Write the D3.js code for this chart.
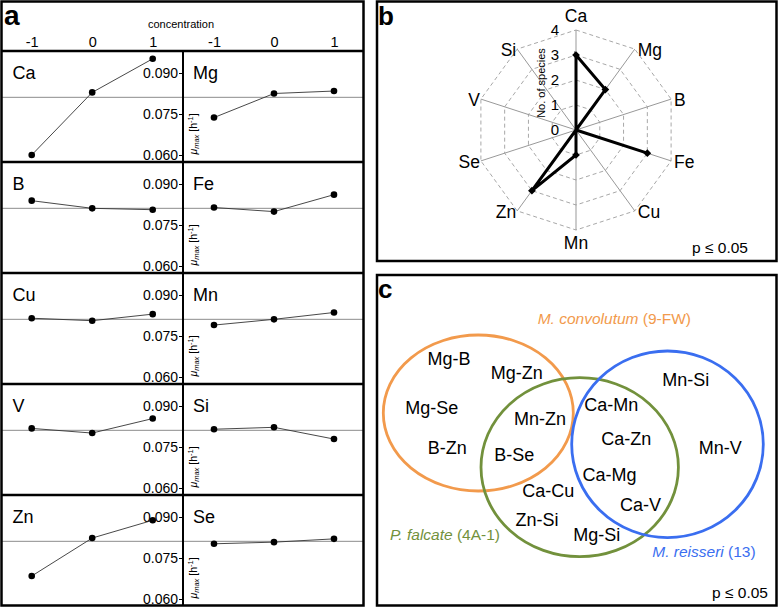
<!DOCTYPE html>
<html><head><meta charset="utf-8">
<script src="https://cdn.jsdelivr.net/npm/d3@7"></script>
<style>
body{margin:0;background:#fff}
svg{display:block}
text{font-family:"Liberation Sans",Arial,Helvetica,sans-serif;fill:#000}
</style>
</head><body>
<svg id="fig" width="779" height="608"></svg>
<script>
// ---------- Panel a data ----------
const concentrations = [-1, 0, 1];
const muCa = [0.0600, 0.0829, 0.0952];
const muMg = [0.0737, 0.0825, 0.0834];
const muB  = [0.0839, 0.0811, 0.0806];
const muFe = [0.0814, 0.0799, 0.0861];
const muCu = [0.0815, 0.0806, 0.0830];
const muMn = [0.0790, 0.0811, 0.0836];
const muV  = [0.0818, 0.0801, 0.0854];
const muSi = [0.0815, 0.0822, 0.0779];
const muZn = [0.0684, 0.0823, 0.0888];
const muSe = [0.0802, 0.0808, 0.0820];
const muTicks = [0.060, 0.075, 0.090];
const referenceMu = 0.0811;
const gridRows = [["Ca","Mg"],["B","Fe"],["Cu","Mn"],["V","Si"],["Zn","Se"]];
const muByElement = {Ca:muCa, Mg:muMg, B:muB, Fe:muFe, Cu:muCu, Mn:muMn, V:muV, Si:muSi, Zn:muZn, Se:muSe};

// ---------- Panel b data ----------
const radarAxes = ["Ca","Mg","B","Fe","Cu","Mn","Zn","Se","V","Si"];
const speciesCount = [3, 2, 0, 3, 0, 1, 3, 0, 0, 0];
const radarTicks = [0, 1, 2, 3, 4];

// ---------- Panel c data ----------
const vennNames = ["M. convolutum", "P. falcate", "M. reisseri"];
const vennStrains = ["9-FW", "4A-1", "13"];
const pairsConvolutumOnly = ["Mg-B","Mg-Zn","Mg-Se","B-Zn"];
const pairsConvolutumFalcate = ["Mn-Zn","B-Se"];
const pairsFalcateReisseri = ["Ca-Mn","Ca-Zn","Ca-Mg","Ca-V"];
const pairsFalcateOnly = ["Ca-Cu","Zn-Si","Mg-Si"];
const pairsReisseriOnly = ["Mn-Si","Mn-V"];
const pValueText = "p ≤ 0.05";

// ---------- Layout ----------
const svg = d3.select("#fig");
const FONT = '"Liberation Sans",Arial,Helvetica,sans-serif';

// ===== Panel a =====
const A = {x0:1.5, x1:363.5, y0:1.5, y1:605.5, headerY:51, rowH:111, divX:183};
const ga = svg.append("g");
const colScales = [
  d3.scaleLinear().domain([-1,1]).range([31.7,152.7]),
  d3.scaleLinear().domain([-1,1]).range([214,334])
];

// header
ga.append("text").attr("x",181).attr("y",28).attr("text-anchor","middle")
  .style("font-size","11px").text("concentration");
colScales.forEach(sc=>{
  const ax = ga.append("g").attr("transform",`translate(0,${A.headerY})`)
    .call(d3.axisTop(sc).tickValues(concentrations).tickFormat(d=>String(d)).tickSize(0).tickPadding(4));
  ax.select(".domain").remove();
  ax.selectAll("text").style("font-size","14.5px").style("font-family",FONT).attr("fill","#000");
});

gridRows.forEach((pair,i)=>{
  const top = A.headerY + i*A.rowH;
  const y = d3.scaleLinear().domain([0.060,0.090]).range([top+104, top+22]);
  ga.append("line").attr("x1",A.x0).attr("x2",A.x1)
    .attr("y1",y(referenceMu)).attr("y2",y(referenceMu))
    .attr("stroke","#8c8c8c").attr("stroke-width",1);
  const ax = ga.append("g").attr("transform",`translate(${A.divX},0)`)
    .call(d3.axisLeft(y).tickValues(muTicks).tickFormat(d3.format(".3f")).tickSize(4).tickPadding(1));
  ax.select(".domain").remove();
  ax.selectAll("line").attr("stroke","#000").attr("stroke-width",1);
  ax.selectAll("text").style("font-size","14px").style("font-family",FONT).attr("fill","#000");
  const t = ga.append("text").attr("transform",`translate(${A.divX+10},${top+83}) rotate(-90)`)
    .attr("text-anchor","middle").attr("dy","0.35em").style("font-size","10.5px");
  t.append("tspan").style("font-style","italic").text("μ");
  t.append("tspan").style("font-style","italic").style("font-size","7.5px").attr("dy","2").text("max");
  t.append("tspan").attr("dy","-2").text(" [h");
  t.append("tspan").style("font-size","7.5px").attr("dy","-4").text("-1");
  t.append("tspan").attr("dy","4").text("]");

  pair.forEach((el,c)=>{
    const xs = colScales[c];
    const vals = muByElement[el];
    const pts = concentrations.map((k,j)=>[xs(k), y(vals[j])]);
    ga.append("path").attr("d", d3.line()(pts)).attr("fill","none")
      .attr("stroke","#333").attr("stroke-width",0.9);
    ga.selectAll(null).data(pts).join("circle")
      .attr("cx",d=>d[0]).attr("cy",d=>d[1]).attr("r",3.3).attr("fill","#000");
    ga.append("text").attr("x", c===0 ? 12.5 : 193).attr("y", top+28)
      .style("font-size","18px").text(el);
  });
  if(i>0){
    ga.append("line").attr("x1",A.x0).attr("x2",A.x1).attr("y1",top).attr("y2",top)
      .attr("stroke","#000").attr("stroke-width",2.5);
  }
});
ga.append("line").attr("x1",A.x0).attr("x2",A.x1).attr("y1",A.headerY).attr("y2",A.headerY)
  .attr("stroke","#000").attr("stroke-width",2.5);
ga.append("line").attr("x1",A.divX).attr("x2",A.divX).attr("y1",A.headerY).attr("y2",A.y1)
  .attr("stroke","#000").attr("stroke-width",2);
ga.append("rect").attr("x",A.x0).attr("y",A.y0).attr("width",A.x1-A.x0).attr("height",A.y1-A.y0)
  .attr("fill","none").attr("stroke","#000").attr("stroke-width",2.5);
ga.append("text").attr("x",4).attr("y",25).style("font-size","28px").style("font-weight","bold").text("a");

// ===== Panel b =====
const B = {x0:377, x1:776.5, y0:1.5, y1:261, cx:576, cy:130, R:100};
const gb = svg.append("g");
gb.append("rect").attr("x",B.x0).attr("y",B.y0).attr("width",B.x1-B.x0).attr("height",B.y1-B.y0)
  .attr("fill","none").attr("stroke","#000").attr("stroke-width",2.5);
gb.append("text").attr("x",378).attr("y",25).style("font-size","26px").style("font-weight","bold").text("b");
const rs = d3.scaleLinear().domain([0,4]).range([0,B.R]);
const angleOf = k => radarAxes.indexOf(k) * 2*Math.PI/radarAxes.length;
const rg = gb.append("g").attr("transform",`translate(${B.cx},${B.cy})`);
radarTicks.filter(t=>t>0).forEach(t=>{
  rg.append("path")
    .attr("d", d3.lineRadial().angle(k=>angleOf(k)).radius(()=>rs(t)).curve(d3.curveLinearClosed)(radarAxes))
    .attr("fill","none").attr("stroke","#a8a8a8").attr("stroke-width",1).attr("stroke-dasharray","4,3");
});
radarAxes.forEach(k=>{
  const a = angleOf(k);
  rg.append("line").attr("x1",0).attr("y1",0)
    .attr("x2",rs(4)*Math.sin(a)).attr("y2",-rs(4)*Math.cos(a))
    .attr("stroke","#999").attr("stroke-width",1);
});
radarAxes.forEach(k=>{
  const a = angleOf(k), s = Math.sin(a), c = Math.cos(a);
  const ex = rs(4)*s, ey = -rs(4)*c;
  const t = rg.append("text").style("font-size","17.5px").text(k);
  if (Math.abs(s) < 0.01) {
    t.attr("x",ex).attr("text-anchor","middle").attr("y", c>0 ? ey-8 : ey+19);
  } else if (s>0) {
    t.attr("x",ex+3).attr("y",ey+1).attr("dy","0.35em").attr("text-anchor","start");
  } else {
    t.attr("x",ex-1).attr("y",ey+1).attr("dy","0.35em").attr("text-anchor","end");
  }
});
radarTicks.forEach(t=>{
  rg.append("text").attr("x",-17).attr("y",-rs(t)).attr("dy","0.36em")
    .attr("text-anchor","end").style("font-size","15px").text(t);
});
rg.append("text").attr("transform",`translate(-31,-47) rotate(-90)`).attr("text-anchor","middle")
  .style("font-size","11px").text("No. of species");
const rdata = radarAxes.map((k,i)=>({k, v:speciesCount[i]}));
rg.append("path")
  .attr("d", d3.lineRadial().angle(d=>angleOf(d.k)).radius(d=>rs(d.v)).curve(d3.curveLinearClosed)(rdata))
  .attr("fill","none").attr("stroke","#000").attr("stroke-width",3).attr("stroke-linejoin","miter");
rg.selectAll(null).data(rdata.filter(d=>d.v>0)).join("path")
  .attr("d", d3.symbol(d3.symbolSquare, 30))
  .attr("transform", d=>{const a=angleOf(d.k); return `translate(${rs(d.v)*Math.sin(a)},${-rs(d.v)*Math.cos(a)}) rotate(45)`;})
  .attr("fill","#000");
gb.append("text").attr("x",748).attr("y",253).attr("text-anchor","end").style("font-size","15.5px").text(pValueText);

// ===== Panel c =====
const C = {x0:377, x1:776.5, y0:275, y1:605.5};
const gc = svg.append("g");
gc.append("rect").attr("x",C.x0).attr("y",C.y0).attr("width",C.x1-C.x0).attr("height",C.y1-C.y0)
  .attr("fill","none").attr("stroke","#000").attr("stroke-width",2.5);
gc.append("text").attr("x",378).attr("y",298).style("font-size","26px").style("font-weight","bold").text("c");
const vennColors = ["#f29a4c","#72913c","#3a6ef0"];
const vennShapes = [
  {cx:478.3, cy:413, rx:95, ry:78},
  {cx:579.7, cy:467.2, rx:98.7, ry:89.5},
  {cx:667.5, cy:444.3, rx:95.8, ry:93.3}
];
gc.selectAll(null).data(vennShapes).join("ellipse")
  .attr("cx",d=>d.cx).attr("cy",d=>d.cy).attr("rx",d=>d.rx).attr("ry",d=>d.ry)
  .attr("fill","none").attr("stroke",(d,i)=>vennColors[i]).attr("stroke-width",2.8);
const nameLayout = [
  {x:537.7, y:319, anchor:"start"},
  {x:390, y:535, anchor:"start"},
  {x:652.3, y:551.7, anchor:"start"}
];
vennNames.forEach((n,i)=>{
  const L = nameLayout[i];
  const t = gc.append("text").attr("x",L.x).attr("y",L.y).attr("dy","0.35em")
    .attr("text-anchor",L.anchor).style("font-size","15.5px");
  t.append("tspan").style("font-style","italic").style("fill",vennColors[i]).text(n);
  t.append("tspan").style("fill",vennColors[i]).text(` (${vennStrains[i]})`);
});
const pairLayout = {
  "Mg-B":[449,359], "Mg-Zn":[516.7,372.3], "Mg-Se":[431.7,407.7], "B-Zn":[447.3,447.7],
  "Mn-Zn":[540,418.3], "B-Se":[514.3,454.3],
  "Ca-Mn":[611.3,405], "Ca-Zn":[626.3,439], "Ca-Mg":[609.5,474.3], "Ca-V":[640.5,504.3],
  "Ca-Cu":[548.3,491], "Zn-Si":[537,520], "Mg-Si":[596.8,535],
  "Mn-Si":[685.7,380], "Mn-V":[720.3,447.7]
};
[pairsConvolutumOnly, pairsConvolutumFalcate, pairsFalcateReisseri, pairsFalcateOnly, pairsReisseriOnly]
  .flat().forEach(p=>{
    const [x,y] = pairLayout[p];
    gc.append("text").attr("x",x).attr("y",y).attr("dy","0.35em").attr("text-anchor","middle")
      .style("font-size","18px").text(p);
  });
gc.append("text").attr("x",768).attr("y",598).attr("text-anchor","end").style("font-size","15.5px").text(pValueText);
</script>
</body></html>
